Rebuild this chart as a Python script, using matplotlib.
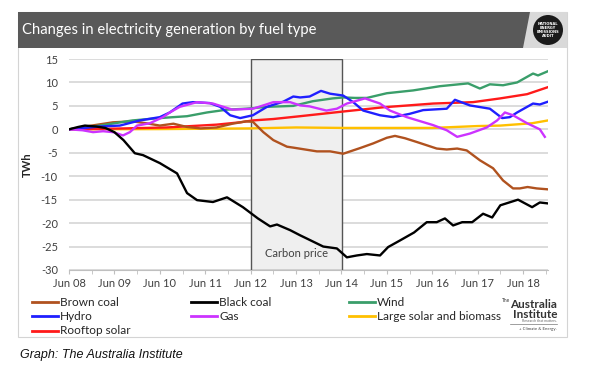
import numpy as np
import matplotlib
matplotlib.use("Agg")
from matplotlib import pyplot as plt
from matplotlib.patches import Rectangle, Polygon, Ellipse
from matplotlib.lines import Line2D

# x = years since June 2008
ticks = ["Jun 08", "Jun 09", "Jun 10", "Jun 11", "Jun 12", "Jun 13",
         "Jun 14", "Jun 15", "Jun 16", "Jun 17", "Jun 18"]

black_x = [0, 0.2, 0.35, 0.6, 0.8, 1.0, 1.2, 1.45, 1.63, 2.0, 2.38, 2.6, 2.82, 3.17, 3.48, 3.83,
           4.16, 4.43, 4.58, 4.87, 5.09, 5.24, 5.6, 5.9, 6.12, 6.34, 6.56, 6.85, 7.03, 7.29, 7.6,
           7.88, 8.1, 8.28, 8.46, 8.66, 8.88, 9.12, 9.32, 9.5, 9.89, 10.2, 10.37, 10.55]
black_y = [0, 0.5, 0.8, 0.6, 0.3, -0.6, -2.3, -5.1, -5.5, -7.2, -9.4, -13.6, -15.1, -15.5, -14.5, -16.6,
           -19.0, -20.7, -20.3, -21.5, -22.6, -23.3, -25.0, -25.4, -27.3, -26.9, -26.6, -26.9, -25.1, -23.7, -22.0,
           -19.8, -19.8, -19.0, -20.5, -19.8, -19.8, -18.0, -18.8, -16.2, -15.0, -16.6, -15.6, -15.8]

brown_x = [0, 0.5, 0.97, 1.4, 1.7, 2.0, 2.3, 2.6, 2.9, 3.25, 3.6, 3.9, 4.05, 4.28, 4.5, 4.8, 4.94,
           5.2, 5.46, 5.75, 6.04, 6.41, 6.7, 7.0, 7.18, 7.4, 7.66, 8.1, 8.32, 8.55, 8.76, 9.05, 9.34,
           9.56, 9.78, 9.93, 10.1, 10.3, 10.55]
brown_y = [0, 0.8, 1.5, 1.7, 1.3, 0.8, 1.2, 0.5, 0.2, 0.4, 1.2, 1.7, 1.6, -0.6, -2.3, -3.7, -3.9,
           -4.3, -4.7, -4.7, -5.2, -4.0, -3.0, -1.8, -1.4, -1.9, -2.7, -4.1, -4.3, -4.1, -4.5, -6.6, -8.3,
           -10.9, -12.6, -12.6, -12.3, -12.6, -12.8]

wind_x = [0, 0.68, 1.4, 2.0, 2.6, 3.04, 3.48, 3.9, 4.36, 4.94, 5.37, 5.81, 6.04, 6.3, 6.56, 7.0,
          7.58, 8.17, 8.79, 9.05, 9.27, 9.56, 9.87, 10.22, 10.33, 10.55]
wind_y = [0, 0.8, 1.9, 2.4, 2.8, 3.6, 4.2, 4.4, 4.8, 5.0, 6.0, 6.6, 6.8, 6.7, 6.7, 7.7,
          8.3, 9.2, 9.8, 8.7, 9.6, 9.4, 10.0, 11.9, 11.5, 12.4]

hydro_x = [0, 0.68, 1.12, 1.56, 2.0, 2.22, 2.5, 2.73, 3.1, 3.33, 3.55, 3.77, 4.05, 4.36, 4.72, 4.94,
           5.09, 5.3, 5.55, 5.75, 6.04, 6.26, 6.48, 6.85, 7.14, 7.5, 7.8, 8.32, 8.5, 8.83, 9.27,
           9.54, 9.71, 9.87, 10.22, 10.37, 10.55]
hydro_y = [0, 0.6, 0.8, 1.9, 2.6, 3.6, 5.5, 5.8, 5.6, 4.8, 3.0, 2.4, 3.0, 4.8, 5.9, 7.0,
           6.8, 7.0, 8.2, 7.6, 7.2, 5.8, 4.0, 3.0, 2.6, 3.3, 4.1, 4.4, 6.3, 5.1, 4.4,
           2.4, 2.6, 3.6, 5.5, 5.3, 5.9]

gas_x = [0, 0.3, 0.53, 0.75, 0.97, 1.19, 1.34, 1.5, 1.78, 2.07, 2.22, 2.44, 2.82, 3.17, 3.4, 3.6,
         4.05, 4.28, 4.5, 4.87, 5.09, 5.3, 5.67, 5.9, 6.12, 6.52, 6.85, 7.07, 7.44, 8.02, 8.32,
         8.55, 8.83, 9.2, 9.43, 9.6, 9.78, 10.09, 10.37, 10.48]
gas_y = [0, -0.2, -0.6, -0.4, -0.6, -1.3, -0.6, 0.8, 1.3, 2.6, 3.6, 4.8, 5.8, 5.5, 4.8, 4.2,
         4.4, 5.1, 5.8, 5.8, 5.1, 4.9, 4.0, 4.4, 5.5, 6.6, 5.5, 4.0, 2.6, 0.9, -0.2,
         -1.6, -0.9, 0.4, 1.9, 3.6, 3.0, 1.3, 0.0, -1.6]

solar_lg_x = [0, 2.0, 4.0, 5.0, 6.0, 7.0, 8.0, 8.5, 9.0, 9.5, 10.2, 10.55]
solar_lg_y = [0, 0.05, 0.2, 0.4, 0.3, 0.3, 0.3, 0.5, 0.7, 0.8, 1.3, 1.9]

rooftop_x = [0, 1.0, 2.15, 3.25, 3.77, 4.05, 4.5, 5.09, 6.04, 6.92, 8.02, 8.9, 9.5, 10.09, 10.55]
rooftop_y = [0, 0.15, 0.4, 1.0, 1.5, 1.9, 2.2, 2.8, 3.8, 4.7, 5.5, 5.8, 6.6, 7.5, 9.0]

series = [
    ("Brown coal", brown_x, brown_y, "#b0521f"),
    ("Black coal", black_x, black_y, "#000000"),
    ("Wind", wind_x, wind_y, "#3a9e6a"),
    ("Hydro", hydro_x, hydro_y, "#1f1fff"),
    ("Gas", gas_x, gas_y, "#cc33ff"),
    ("Large solar and biomass", solar_lg_x, solar_lg_y, "#ffc000"),
    ("Rooftop solar", rooftop_x, rooftop_y, "#ff1a1a"),
]
draw_order = [5, 6, 0, 2, 3, 4, 1]

W, H = 600, 371
fig = plt.figure(figsize=(6, 3.71), dpi=100)
body = "Lato"


def px(x, y):
    return (x / W, 1 - y / H)


# frame and title bar
fig.add_artist(Rectangle(px(18, 337), 549 / W, 325 / H, transform=fig.transFigure,
                         facecolor="none", edgecolor="#d4d4d4", lw=0.8, zorder=-1))
fig.add_artist(Polygon([px(18, 12), px(567, 12), px(567, 48), px(18, 48)], closed=True,
                       transform=fig.transFigure, facecolor="#d9d9d9", edgecolor="none"))
fig.add_artist(Polygon([px(18, 12), px(530, 12), px(523, 48), px(18, 48)], closed=True,
                       transform=fig.transFigure, facecolor="#595959", edgecolor="none"))
fig.text(*px(22, 30), "Changes in electricity generation by fuel type", color="white",
         fontsize=10.6, family=body, va="center", ha="left")
fig.add_artist(Ellipse(px(548, 30), 30 / W, 30 / H, transform=fig.transFigure,
                       facecolor="#1a1a1a", edgecolor="none"))
fig.text(*px(548, 30), "NATIONAL\nENERGY\nEMISSIONS\nAUDIT", color="white", fontsize=2.6,
         family="DejaVu Sans", weight="bold", ha="center", va="center", linespacing=1.0)

ax = fig.add_axes([69 / W, 1 - 270 / H, (548 - 69) / W, (270 - 59) / H])
ax.set_xlim(0, 10.55)
ax.set_ylim(-30, 15)

ax.add_patch(Rectangle((4, -30), 2.02, 45, facecolor="#efefef", edgecolor="#555555", lw=1.0, zorder=1))
ax.text(5.01, -26.5, "Carbon price", ha="center", va="center", fontsize=8, family=body, color="#404040", zorder=2)

for i in draw_order:
    name, xs, ys, col = series[i]
    ax.plot(xs, ys, color=col, lw=1.7, zorder=3, solid_joinstyle="round")

ax.set_yticks(range(-30, 16, 5))
ax.set_yticklabels([str(v) for v in range(-30, 16, 5)], fontsize=8, family=body, color="#404040")
ax.yaxis.grid(True, color="#d9d9d9", lw=1.3)
ax.set_axisbelow(True)
ax.set_xticks(range(0, 11))
ax.set_xticklabels(ticks, fontsize=8, family=body, color="#404040")
ax.set_xticks(np.arange(0.5, 10.6, 1.0), minor=True)
ax.tick_params(axis="x", which="both", length=3, color="#bfbfbf", pad=3)
ax.tick_params(axis="y", length=0, pad=8)
for s in ["top", "right", "left"]:
    ax.spines[s].set_visible(False)
ax.spines["bottom"].set_color("#bfbfbf")
ax.set_ylabel("TWh", fontsize=8, family=body, weight="bold", color="#262626", labelpad=6)

# legend, laid out row by row
cols_x = [32, 191, 349]
rows_y = [302, 316, 331]
for k, (name, xs, ys, col) in enumerate(series):
    cx = cols_x[k % 3]
    ry = rows_y[k // 3]
    fig.add_artist(Line2D([cx / W, (cx + 26) / W], [1 - ry / H, 1 - ry / H], color=col, lw=2,
                          transform=fig.transFigure))
    fig.text((cx + 28) / W, 1 - ry / H, name, fontsize=8.5, family=body, color="#262626",
             va="center", ha="left")

# logo
fig.text(*px(502, 301), "The", fontsize=3.5, family=body, color="#333333", ha="left", va="center")
fig.text(*px(557, 304), "Australia", fontsize=8.5, family=body, weight="bold", color="#333333",
         ha="right", va="center")
fig.text(*px(557, 314), "Institute", fontsize=8.5, family=body, weight="bold", color="#333333",
         ha="right", va="center")
fig.text(*px(557, 320.5), "Research that matters.", fontsize=2.5, family=body, color="#666666",
         ha="right", va="center")
fig.add_artist(Line2D([510 / W, 557 / W], [1 - 323.5 / H, 1 - 323.5 / H], color="#777777", lw=0.5,
                      transform=fig.transFigure))
fig.text(*px(557, 329), "+ Climate & Energy.", fontsize=3.2, family=body, color="#444444",
         ha="right", va="center")

fig.text(*px(20, 355), "Graph: The Australia Institute", fontsize=9, style="italic",
         family="Liberation Sans", color="#111111", ha="left", va="center")

fig.savefig("out.png", dpi=100)
